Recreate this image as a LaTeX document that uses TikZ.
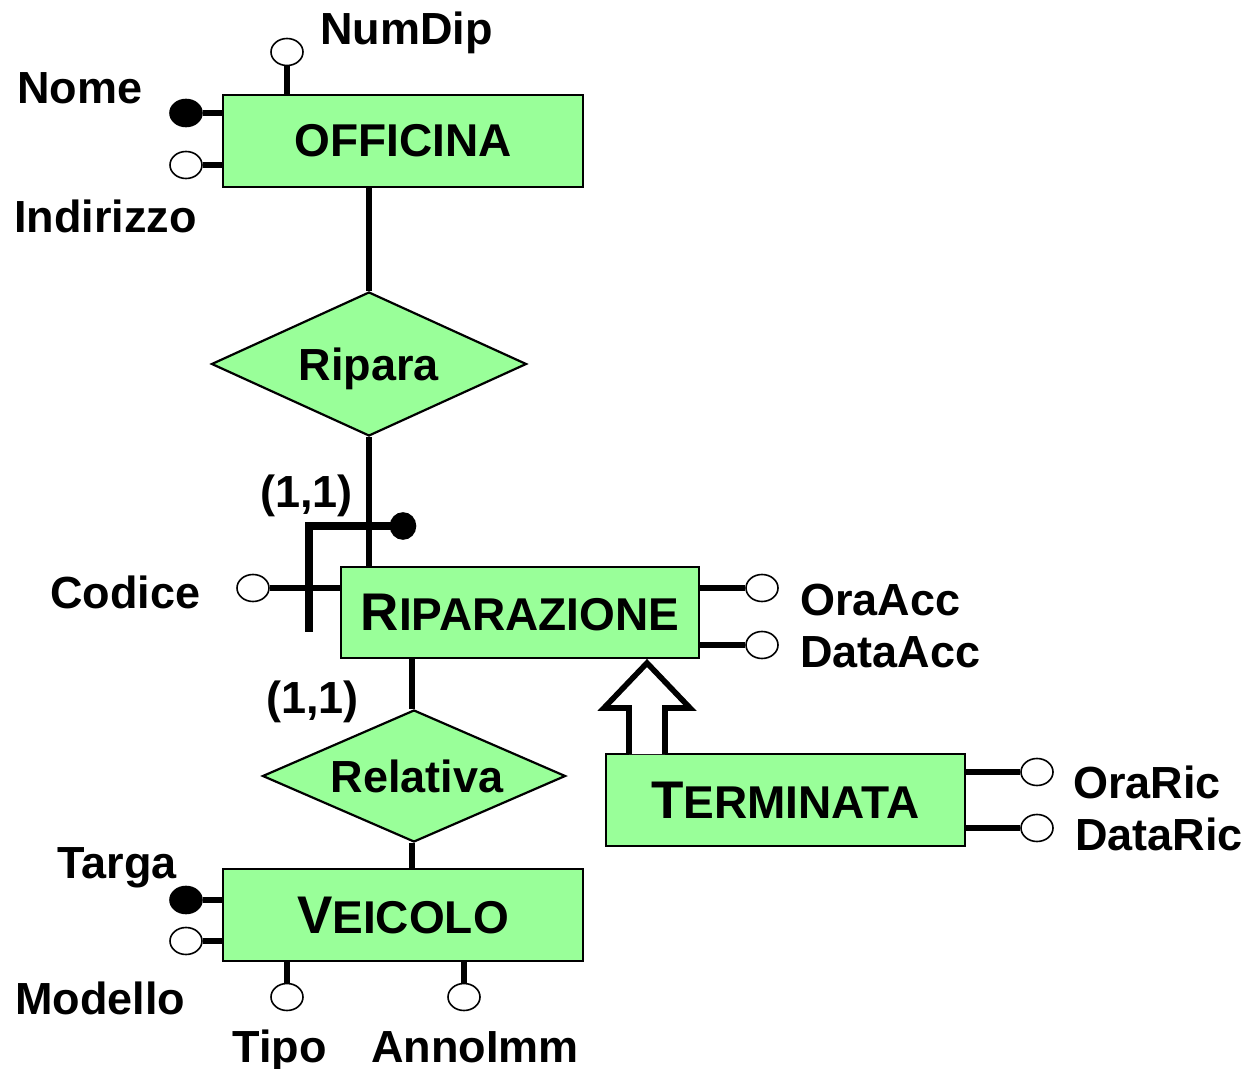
\documentclass[tikz,border=0pt]{standalone}
\usepackage{fontspec}
\setmainfont{Liberation Sans}
\usetikzlibrary{shapes.geometric,calc}
\definecolor{ergreen}{RGB}{153,255,153}
\newcommand\ercap[1]{{\fontsize{26.5}{30}\selectfont #1}}
\begin{document}
\begin{tikzpicture}[x=0.5pt,y=-0.5pt,
  entity/.style={draw,line width=1.1pt,fill=ergreen,inner sep=0pt,
    minimum width=180pt,minimum height=46pt,
    font=\fontsize{23}{27}\selectfont\bfseries},
  relation/.style={diamond,aspect=2.2,draw,line width=1.1pt,fill=ergreen,
    inner sep=0pt,text depth=0pt,font=\fontsize{22.5}{27}\selectfont\bfseries},
  attr/.style={ellipse,draw,line width=0.8pt,fill=white,inner sep=0pt,
    minimum width=16pt,minimum height=13.5pt},
  keyattr/.style={attr,fill=black},
  lbl/.style={inner sep=0pt,anchor=base west,
    font=\fontsize{22.5}{27}\selectfont\bfseries},
  link/.style={line width=3pt},
  idlink/.style={line width=4pt},
  isa/.style={line width=2.8pt,fill=white,line join=miter},
]
\useasboundingbox (0,0) rectangle (1247,1069);

% entities and relationships
\node[entity] (off) at (403,141) {\raisebox{-1.5pt}{OFFICINA}};
\node[relation,minimum width=157.5pt,minimum height=72pt] (ripara) at (369,364) {Ripara};
\node[entity,minimum width=179pt,minimum height=45.5pt] (rip) at (520,612.5) {\ercap{R}IPARAZIONE};
\node[relation,minimum width=151.5pt,minimum height=66pt] (relativa) at (414,776) {\hspace*{3pt}Relativa};
\node[entity] (veic) at (403,915) {\ercap{V}EICOLO};
\node[entity,minimum width=179.5pt] (term) at (785.5,800) {\ercap{T}ERMINATA};

% relationship links
\draw[link] (ripara.north) -- (ripara.north |- off.south);
\draw[link] (ripara.south) -- (ripara.south |- rip.north);
\coordinate (rellink) at (412,776);
\draw[link] (rellink |- relativa.north) -- (rellink |- rip.south);
\draw[link] (rellink |- relativa.south) -- (rellink |- veic.north);

% OFFICINA attributes
\node[attr] (numdip) at (287,52) {};
\node[keyattr] (nome) at (186,113) {};
\node[attr] (indir) at (186,165) {};
\draw[link] (numdip.south) -- (numdip.south |- off.north);
\draw[link] (nome.east) -- (nome.east -| off.west);
\draw[link] (indir.east) -- (indir.east -| off.west);
\node[lbl] at (320,45) {NumDip};
\node[lbl] at (17,104) {Nome};
\node[lbl] at (14,233) {Indirizzo};

% RIPARAZIONE attributes and composite identifier
\node[attr] (codice) at (253,588) {};
\node[attr] (oraacc) at (762,588) {};
\node[attr] (dataacc) at (762,645) {};
\draw[link] (codice.east) -- (codice.east -| rip.west);
\draw[link] (oraacc.west) -- (oraacc.west -| rip.east);
\draw[link] (dataacc.west) -- (dataacc.west -| rip.east);
\node[keyattr,minimum width=12.5pt,minimum height=13pt] (ident) at (403,526) {};
\coordinate (idcorner) at (309,526);
\coordinate (idend) at (309,632);
\draw[idlink] (ident.center) -- (idcorner) -- (idend);
\node[lbl] at (50,608) {Codice};
\node[lbl] at (800,615) {OraAcc};
\node[lbl] at (800,667) {DataAcc};
\node[lbl] at (260,507) {(1,1)};
\node[lbl] at (266,713) {(1,1)};

% generalisation TERMINATA -> RIPARAZIONE
\coordinate (isab) at (647,754);
\coordinate (isat) at (647,663);
\draw[isa] ($(isab)+(-18,0)$) -- ($(isab)+(-18,-46)$) -- ($(isab)+(-43,-46)$)
  -- (isat) -- ($(isab)+(43,-46)$) -- ($(isab)+(18,-46)$) -- ($(isab)+(18,0)$);

% TERMINATA attributes
\node[attr] (oraric) at (1037,772) {};
\node[attr] (dataric) at (1037,828) {};
\draw[link] (oraric.west) -- (oraric.west -| term.east);
\draw[link] (dataric.west) -- (dataric.west -| term.east);
\node[lbl] at (1073,798) {OraRic};
\node[lbl] at (1075,850) {DataRic};

% VEICOLO attributes
\node[keyattr] (targa) at (186,900) {};
\node[attr] (modello) at (186,941) {};
\node[attr] (tipo) at (287,997) {};
\node[attr] (annoimm) at (464,997) {};
\draw[link] (targa.east) -- (targa.east -| veic.west);
\draw[link] (modello.east) -- (modello.east -| veic.west);
\draw[link] (tipo.north) -- (tipo.north |- veic.south);
\draw[link] (annoimm.north) -- (annoimm.north |- veic.south);
\node[lbl] at (57,878) {Targa};
\node[lbl] at (15,1014) {Modello};
\node[lbl] at (232,1062) {Tipo};
\node[lbl] at (371,1062) {AnnoImm};
\end{tikzpicture}
\end{document}
